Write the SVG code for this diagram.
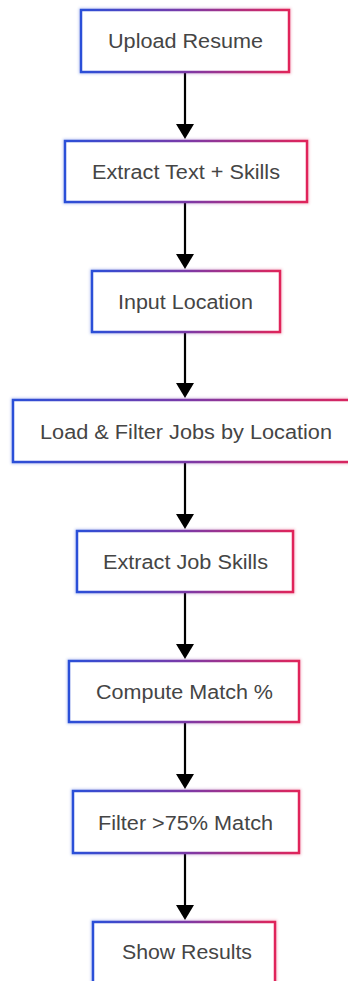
<svg xmlns="http://www.w3.org/2000/svg" width="348" height="981" viewBox="0 0 348 981">
  <style>
    .box { fill: #ffffff; stroke: url(#edge); stroke-width: 2.5; }
    .glow { fill: none; stroke: url(#edge); stroke-width: 4; opacity: 0.3; filter: url(#soft); }
    .label { font-family: "Liberation Sans", Arial, sans-serif; font-size: 20px; fill: #454545; text-anchor: middle; }
    .wire { stroke: #000000; stroke-width: 2.2; fill: none; }
    .head { fill: #000000; }
  </style>
  <defs>
    <linearGradient id="edge" x1="0" y1="0" x2="1" y2="0">
      <stop offset="0" stop-color="#2a4fd8"/>
      <stop offset="0.5" stop-color="#7a3aa8"/>
      <stop offset="1" stop-color="#e0245a"/>
    </linearGradient>
    <filter id="soft" x="-10%" y="-20%" width="120%" height="140%">
      <feGaussianBlur stdDeviation="1.6"/>
    </filter>
  </defs>

  <rect width="348" height="981" fill="#ffffff"/>

  <!-- connectors -->
  <g id="connectors">
    <path class="wire" d="M185,73 V126"/>
    <path class="head" d="M176,124 H194 L185,139 Z"/>
    <path class="wire" d="M185,203 V256"/>
    <path class="head" d="M176,254 H194 L185,269 Z"/>
    <path class="wire" d="M185,333 V385"/>
    <path class="head" d="M176,383 H194 L185,398 Z"/>
    <path class="wire" d="M185,463 V516"/>
    <path class="head" d="M176,514 H194 L185,529 Z"/>
    <path class="wire" d="M185,593 V646"/>
    <path class="head" d="M176,644 H194 L185,659 Z"/>
    <path class="wire" d="M185,723 V776"/>
    <path class="head" d="M176,774 H194 L185,789 Z"/>
    <path class="wire" d="M185,854 V907"/>
    <path class="head" d="M176,905 H194 L185,920 Z"/>
  </g>

  <!-- steps -->
  <g id="upload-resume">
    <rect class="glow" x="81" y="10" width="208" height="62"/>
    <rect class="box" x="81" y="10" width="208" height="62"/>
    <text class="label" x="185.5" y="48" textLength="155" lengthAdjust="spacingAndGlyphs">Upload Resume</text>
  </g>
  <g id="extract-text-skills">
    <rect class="glow" x="65" y="141" width="242" height="61"/>
    <rect class="box" x="65" y="141" width="242" height="61"/>
    <text class="label" x="186" y="179" textLength="188" lengthAdjust="spacingAndGlyphs">Extract Text + Skills</text>
  </g>
  <g id="input-location">
    <rect class="glow" x="92" y="271" width="188" height="61"/>
    <rect class="box" x="92" y="271" width="188" height="61"/>
    <text class="label" x="185.5" y="309" textLength="135" lengthAdjust="spacingAndGlyphs">Input Location</text>
  </g>
  <g id="load-filter-jobs">
    <rect class="glow" x="13" y="400" width="347" height="62"/>
    <rect class="box" x="13" y="400" width="347" height="62"/>
    <text class="label" x="186" y="439" textLength="292" lengthAdjust="spacingAndGlyphs">Load &amp; Filter Jobs by Location</text>
  </g>
  <g id="extract-job-skills">
    <rect class="glow" x="77" y="531" width="216" height="61"/>
    <rect class="box" x="77" y="531" width="216" height="61"/>
    <text class="label" x="185.5" y="569" textLength="165" lengthAdjust="spacingAndGlyphs">Extract Job Skills</text>
  </g>
  <g id="compute-match">
    <rect class="glow" x="69" y="661" width="230" height="61"/>
    <rect class="box" x="69" y="661" width="230" height="61"/>
    <text class="label" x="184.5" y="699" textLength="177" lengthAdjust="spacingAndGlyphs">Compute Match %</text>
  </g>
  <g id="filter-match">
    <rect class="glow" x="73" y="791" width="226" height="62"/>
    <rect class="box" x="73" y="791" width="226" height="62"/>
    <text class="label" x="185.5" y="830" textLength="175" lengthAdjust="spacingAndGlyphs">Filter &gt;75% Match</text>
  </g>
  <g id="show-results">
    <rect class="glow" x="93" y="922" width="182" height="70"/>
    <rect class="box" x="93" y="922" width="182" height="70"/>
    <text class="label" x="187" y="959" textLength="130" lengthAdjust="spacingAndGlyphs">Show Results</text>
  </g>
</svg>
